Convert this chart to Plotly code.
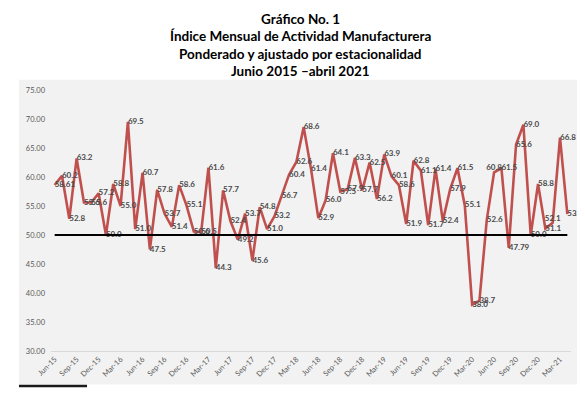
import pandas as pd
import plotly.graph_objects as go

# ---- data ----
months = pd.date_range("2015-06-01", "2021-04-01", freq="MS").strftime("%b-%y").tolist()
index_values = [
    58.61, 60.2, 52.8, 63.2, 55.6, 55.6, 57.2,            # Jun-15 .. Dec-15
    50.0, 58.8, 55.0, 69.5, 51.0, 60.7, 47.5, 57.8, 53.7, 51.4, 58.6, 55.1,   # 2016
    50.6, 50.5, 61.6, 44.3, 57.7, 52.4, 49.2, 53.7, 45.6, 54.8, 51.0, 53.2,   # 2017
    56.7, 60.4, 62.6, 68.6, 61.4, 52.9, 56.0, 64.1, 57.5, 57.9, 63.3, 57.7,   # 2018
    62.5, 56.2, 63.9, 60.1, 58.6, 51.9, 62.8, 61.1, 51.7, 61.4, 52.4, 57.9,   # 2019
    61.5, 55.1, 38.0, 38.7, 52.6, 60.8, 61.5, 47.79, 65.6, 69.0, 50.0, 58.8,  # 2020
    51.1, 52.1, 66.8, 53.6,                                                   # 2021
]
threshold = 50.0
y_ticks = [30, 35, 40, 45, 50, 55, 60, 65, 70, 75]
x_ticks = months[::3]
title_lines = [
    "Gráfico No. 1",
    "Índice Mensual de Actividad Manufacturera",
    "Ponderado y ajustado por estacionalidad",
    "Junio 2015 –abril 2021",
]

labels = [f"{v:.2f}" if round(v, 1) != v else f"{v:.1f}" for v in index_values]
label_pos = ["middle right"] * len(index_values)
for i in (60, 68):
    label_pos[i] = "top center"

# ---- layout geometry (pixels) ----
W, H = 585, 393
L, R, T, B = 43, 562.6, 82.3, 342.7
PW, PH = R - L, B - T


def px(x):
    return (x - L) / PW


def py(y):
    return (B - y) / PH


FONT = "Lato"
GREY = "#595959"

fig = go.Figure()
fig.add_trace(go.Scatter(
    x=months, y=index_values, mode="lines+text",
    line=dict(color="#C0504D", width=2.6),
    text=labels, textposition=label_pos,
    textfont=dict(family=FONT, size=8, color="#4a4a4a", weight="bold"),
    cliponaxis=False, hoverinfo="x+y", showlegend=False,
))
fig.add_trace(go.Scatter(
    x=months, y=[threshold] * len(months), mode="lines",
    line=dict(color="#000000", width=2.2),
    hoverinfo="skip", showlegend=False,
))

title_y_px = [11, 28.5, 46, 63.5]
annotations = [
    dict(text=t, xref="paper", yref="paper", x=px(292.5), y=py(yp),
         xanchor="center", yanchor="middle", showarrow=False,
         font=dict(family=FONT, size=13.5, color="#000000", weight="bold"))
    for t, yp in zip(title_lines, title_y_px)
]

fig.update_layout(
    width=W, height=H,
    margin=dict(l=L, r=W - R, t=T, b=H - B, pad=0, autoexpand=False),
    paper_bgcolor="white", plot_bgcolor="rgba(0,0,0,0)",
    annotations=annotations,
    xaxis=dict(
        type="category", range=[-0.5, len(months) - 0.5],
        tickmode="array", tickvals=x_ticks, ticktext=x_ticks,
        tickangle=-45, tickfont=dict(family=FONT, size=7.5, color=GREY),
        showgrid=False, zeroline=False, showline=True,
        linecolor="#d9d9d9", linewidth=1, ticks="",
    ),
    yaxis=dict(
        range=[30, 75], tickmode="array", tickvals=y_ticks,
        tickformat=".2f", tickfont=dict(family=FONT, size=7.5, color=GREY),
        showgrid=False, zeroline=False, showline=False, ticks="",
        ticklabelstandoff=5,
    ),
    shapes=[
        dict(type="rect", xref="paper", yref="paper",
             x0=px(11), x1=px(579), y0=py(376), y1=py(72),
             fillcolor="#f2f2f2", line=dict(width=0), layer="below"),
        dict(type="line", xref="paper", yref="paper",
             x0=px(11), x1=px(79), y0=py(377.5), y1=py(377.5),
             line=dict(color="#1a1a1a", width=2.5)),
    ],
)

fig.write_html("out.html")
